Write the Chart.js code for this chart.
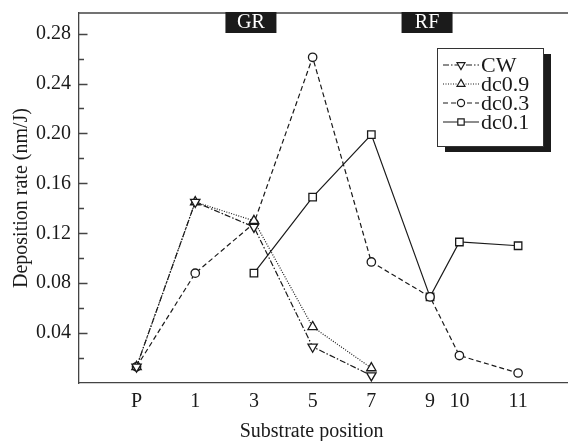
<!DOCTYPE html>
<html>
<head>
<meta charset="utf-8">
<script src="https://cdn.jsdelivr.net/npm/chart.js@4.4.0/dist/chart.umd.min.js"></script>
<style>
  html, body { margin: 0; padding: 0; background: #fff; }
  #wrap { width: 568px; height: 441px; }
</style>
</head>
<body>
<div id="wrap"><canvas id="chart" width="568" height="441"></canvas></div>
<script>
// Substrate positions (tick labels) and where they sit on the axis
const categories = ['P', '1', '3', '5', '7', '9', '10', '11'];
const positions = [0, 1, 2, 3, 4, 5, 5.5, 6.5];

// Deposition rate (nm/J) per position
const cw   = [0.013, 0.145, 0.125, 0.029, 0.006, null, null, null];
const dc09 = [0.013, 0.145, 0.130, 0.045, 0.012, null, null, null];
const dc03 = [0.013, 0.088, 0.128, 0.261, 0.097, 0.069, 0.022, 0.008];
const dc01 = [null, null, 0.088, 0.149, 0.199, 0.069, 0.113, 0.110];

const yTicks = [0.04, 0.08, 0.12, 0.16, 0.20, 0.24, 0.28];
const yMinor = [0.02, 0.06, 0.10, 0.14, 0.18, 0.22, 0.26];

// Region labels on the top edge
const regions = [{ text: 'GR', at: 2 }, { text: 'RF', at: 5 }];
const xTitle = 'Substrate position';

const FONT = "'Liberation Serif', 'Times New Roman', serif";
const INK = '#1a1a1a';

function toPoints(values) {
    return values.map((v, i) => ({ x: positions[i], y: v })).filter(p => p.y !== null);
}

function series(label, values, dash, style, rotation, radius) {
    return {
        label: label,
        data: toPoints(values),
        borderColor: INK,
        borderWidth: 1.2,
        borderDash: dash,
        pointStyle: style,
        rotation: rotation,
        pointRadius: radius,
        pointBorderWidth: 1.3,
        pointBorderColor: INK,
        pointBackgroundColor: '#fff',
        fill: false,
        tension: 0
    };
}

// Frame, inside ticks, GR/RF tags, x title and the boxed legend
const decorations = {
    id: 'decorations',
    afterDraw(chart) {
        const ctx = chart.ctx;
        const area = chart.chartArea;
        const x = chart.scales.x;
        const y = chart.scales.y;
        ctx.save();

        // top edge of the frame
        ctx.strokeStyle = '#444';
        ctx.lineWidth = 1.3;
        ctx.beginPath();
        ctx.moveTo(area.left, area.top);
        ctx.lineTo(area.right, area.top);
        ctx.stroke();

        // inward ticks on the y axis
        ctx.beginPath();
        yTicks.forEach(v => {
            const py = Math.round(y.getPixelForValue(v)) + 0.5;
            ctx.moveTo(area.left, py);
            ctx.lineTo(area.left + 8.5, py);
        });
        yMinor.forEach(v => {
            const py = Math.round(y.getPixelForValue(v)) + 0.5;
            ctx.moveTo(area.left, py);
            ctx.lineTo(area.left + 5, py);
        });
        ctx.stroke();

        // GR / RF tags
        ctx.font = '20px ' + FONT;
        ctx.textAlign = 'center';
        ctx.textBaseline = 'middle';
        regions.forEach(r => {
            const cx = x.getPixelForValue(r.at) - 3;
            ctx.fillStyle = '#1b1b1b';
            ctx.fillRect(cx - 25.5, area.top - 1, 51, 21);
            ctx.fillStyle = '#fff';
            ctx.fillText(r.text, cx, area.top + 10);
        });

        // x axis title, centred under position 5 like the original
        ctx.fillStyle = INK;
        ctx.textBaseline = 'alphabetic';
        ctx.fillText(xTitle, x.getPixelForValue(3) - 1, 436.5);

        // legend box with drop shadow
        const bx = 437, by = 48, bw = 106, bh = 98;
        ctx.fillStyle = '#1b1b1b';
        ctx.fillRect(bx + 8, by + 6, bw, bh);
        ctx.fillStyle = '#fff';
        ctx.fillRect(bx, by, bw, bh);
        ctx.strokeStyle = '#333';
        ctx.lineWidth = 1;
        ctx.strokeRect(bx + 0.5, by + 0.5, bw, bh);

        ctx.textAlign = 'left';
        ctx.textBaseline = 'middle';
        ctx.font = '22px ' + FONT;
        chart.data.datasets.forEach((ds, i) => {
            const ry = 65 + i * 19;
            ctx.strokeStyle = INK;
            ctx.lineWidth = 1.2;
            ctx.setLineDash(ds.borderDash);
            ctx.beginPath();
            ctx.moveTo(443, ry);
            ctx.lineTo(479, ry);
            ctx.stroke();
            ctx.setLineDash([]);
            ctx.fillStyle = '#fff';
            ctx.lineWidth = 1.2;
            Chart.helpers.drawPoint(ctx, {
                pointStyle: ds.pointStyle,
                rotation: ds.rotation,
                radius: ds.pointRadius * 0.85,
                borderWidth: 1.2
            }, 461, ry);
            ctx.fillStyle = INK;
            ctx.fillText(ds.label, 481, ry + 1);
        });
        ctx.restore();
    }
};

new Chart(document.getElementById('chart'), {
    type: 'line',
    data: {
        datasets: [
            series('CW', cw, [6, 2, 1.5, 2], 'triangle', 180, 5.4),
            series('dc0.9', dc09, [1, 1.5], 'triangle', 0, 5.4),
            series('dc0.3', dc03, [5, 3], 'circle', 0, 4.2),
            series('dc0.1', dc01, [], 'rect', 0, 5.3)
        ]
    },
    options: {
        responsive: false,
        animation: false,
        layout: { autoPadding: false, padding: { top: 13, right: 0, left: 0, bottom: 0 } },
        plugins: {
            legend: { display: false },
            tooltip: { enabled: false }
        },
        scales: {
            x: {
                type: 'linear',
                min: -0.98,
                max: 7.35,
                afterBuildTicks: scale => {
                    scale.ticks = positions.map(p => ({ value: p }));
                },
                afterFit: scale => {
                    scale.height = 58;
                    scale.paddingLeft = 0;
                    scale.paddingRight = 0;
                },
                grid: { display: false, drawTicks: false },
                border: { display: true, color: '#444', width: 1.3 },
                ticks: {
                    autoSkip: false,
                    maxRotation: 0,
                    padding: 7,
                    color: INK,
                    font: { family: FONT, size: 20 },
                    callback: (value, index) => categories[index]
                },
                title: { display: false }
            },
            y: {
                min: 0,
                max: 0.2965,
                afterBuildTicks: scale => {
                    scale.ticks = yTicks.map(v => ({ value: v }));
                },
                afterFit: scale => {
                    scale.width = 79;
                    scale.paddingTop = 0;
                    scale.paddingBottom = 0;
                },
                grid: { display: false, drawTicks: false },
                border: { display: true, color: '#444', width: 1.3 },
                ticks: {
                    padding: 8,
                    color: INK,
                    font: { family: FONT, size: 20 },
                    callback: v => v.toFixed(2)
                },
                title: {
                    display: true,
                    text: 'Deposition rate (nm/J)',
                    color: INK,
                    font: { family: FONT, size: 20 },
                    padding: { top: 10, bottom: 0 }
                }
            }
        }
    },
    plugins: [decorations]
});
</script>
</body>
</html>
